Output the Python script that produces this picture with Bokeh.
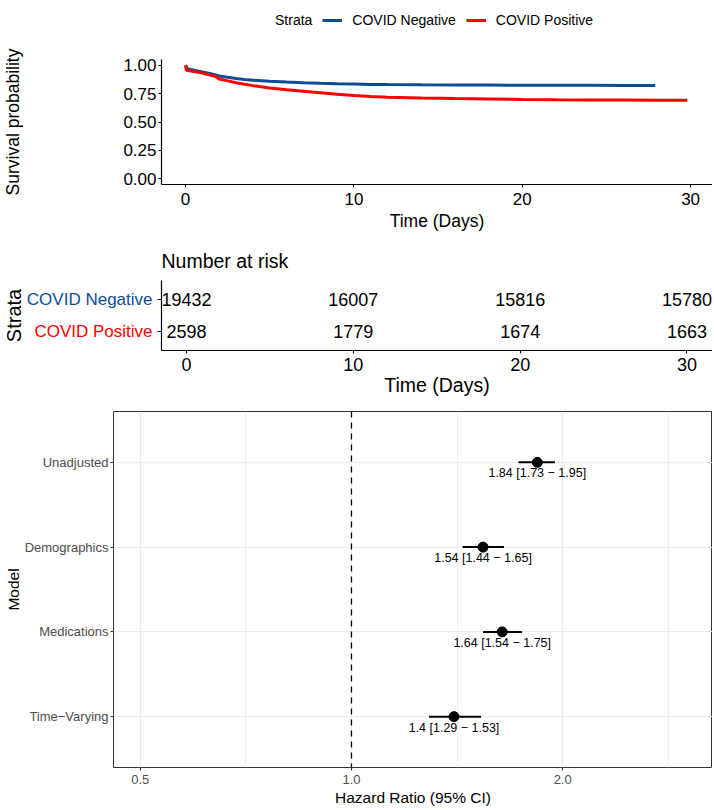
from bokeh.plotting import figure
from bokeh.models import (Range1d, FactorRange, FixedTicker, NumeralTickFormatter, Legend,
                          LegendItem, Span)
from bokeh.layouts import row
from bokeh.embed import file_html
from bokeh.resources import INLINE
from bokeh.core.properties import value

FONT = "Liberation Sans"
BLUE = "#0D4D94"
RED = "#FF0000"

# ---------------- data ----------------
strata = ["COVID Negative", "COVID Positive"]
strata_colors = [BLUE, RED]

neg_time = [0, 0.1, 0.5, 1, 1.5, 2, 2.5, 3, 3.5, 4, 5, 6, 7, 8, 9, 10, 11, 12, 14, 16, 18, 20, 22, 24, 26, 27.9]
neg_surv = [1.0, 0.968, 0.955, 0.94, 0.925, 0.905, 0.893, 0.882, 0.874, 0.868, 0.859, 0.852, 0.846, 0.841,
            0.837, 0.834, 0.831, 0.829, 0.827, 0.826, 0.825, 0.824, 0.823, 0.823, 0.822, 0.822]

pos_time = [0, 0.05, 0.5, 1, 1.5, 1.8, 2, 2.5, 3, 3.5, 4, 5, 6, 7, 8, 9, 10, 11, 12, 14, 16, 18, 20, 22,
            24, 26, 28, 29.8]
pos_surv = [1.0, 0.956, 0.945, 0.93, 0.912, 0.9, 0.878, 0.862, 0.845, 0.832, 0.82, 0.80, 0.784, 0.77,
            0.758, 0.745, 0.733, 0.724, 0.718, 0.712, 0.707, 0.703, 0.699, 0.696, 0.694, 0.693, 0.692, 0.691]

risk_times = [0, 10, 20, 30]
risk_neg = [19432, 16007, 15816, 15780]
risk_pos = [2598, 1779, 1674, 1663]

km_xticks = [0, 10, 20, 30]
km_yticks = [0, 0.25, 0.5, 0.75, 1.0]

models = ["Unadjusted", "Demographics", "Medications", "Time\u2212Varying"]
hr = [1.84, 1.54, 1.64, 1.40]
hr_lo = [1.73, 1.44, 1.54, 1.29]
hr_hi = [1.95, 1.65, 1.75, 1.53]
hr_ticks = [0.5, 1.0, 2.0]
hr_tick_labels = ["0.5", "1.0", "2.0"]
hr_minor = [0.7071, 1.4142, 2.8284]


def style_axis(ax, tick_size, label_size, color="black", line=True):
    ax.axis_line_color = "black" if line else None
    ax.axis_line_width = 1.2
    ax.major_tick_line_color = color
    ax.major_tick_line_width = 1.1
    ax.major_tick_in = 0
    ax.major_tick_out = 3
    ax.minor_tick_line_color = None
    ax.major_label_text_font = FONT
    ax.major_label_text_font_size = tick_size
    ax.major_label_text_color = "black"
    ax.major_label_standoff = 2
    ax.axis_label_text_font = FONT
    ax.axis_label_text_font_size = label_size
    ax.axis_label_text_font_style = "normal"
    ax.axis_label_text_color = "black"


def blank(fig):
    fig.grid.visible = False
    fig.outline_line_color = None


# ---------------- legend header ----------------
hdr = figure(width=712, height=40, min_border=0, x_range=Range1d(0, 1), y_range=Range1d(0, 1),
             x_axis_location=None, y_axis_location=None, output_backend="svg", toolbar_location=None)
blank(hdr)
# single-point renderers: nothing is drawn in the plot, only their legend glyphs
h_title = hdr.line(x=neg_time[:1], y=neg_surv[:1], line_alpha=0)
h_neg = hdr.line(x=neg_time[:1], y=neg_surv[:1], line_color=BLUE, line_width=3)
h_pos = hdr.line(x=pos_time[:1], y=pos_surv[:1], line_color=RED, line_width=3)
legend = Legend(items=[LegendItem(label="Strata", renderers=[h_title]),
                       LegendItem(label=strata[0], renderers=[h_neg]),
                       LegendItem(label=strata[1], renderers=[h_pos])],
                orientation="horizontal", location=(245, 12), glyph_width=20, glyph_height=14,
                label_standoff=10, spacing=10, padding=0, margin=0, border_line_color=None,
                background_fill_alpha=0, label_text_font=FONT, label_text_font_size="14px",
                label_text_color="black", label_height=14)
hdr.add_layout(legend, "center")

# ---------------- KM curve ----------------
km = figure(width=712, height=198, min_border_left=161, min_border_right=0, min_border_top=19,
            min_border_bottom=54, x_range=Range1d(-1.43, 31.3), y_range=Range1d(-0.05, 1.05),
            output_backend="svg", toolbar_location=None)
blank(km)
km.line(neg_time, neg_surv, line_color=BLUE, line_width=3)
km.line(pos_time, pos_surv, line_color=RED, line_width=3)

style_axis(km.xaxis[0], "17px", "17.5px")
style_axis(km.yaxis[0], "17px", "17.5px")
km.xaxis.ticker = FixedTicker(ticks=km_xticks)
km.yaxis.ticker = FixedTicker(ticks=km_yticks)
km.yaxis.formatter = NumeralTickFormatter(format="0.00")
km.xaxis.axis_label = "Time (Days)"
km.xaxis.major_label_standoff = 5
km.xaxis.axis_label_standoff = 3
km.yaxis.axis_label = "Survival probability"
km.yaxis.axis_label_standoff = 97

# ---------------- risk table ----------------
strata_pos = [len(strata) - 1 - i for i in range(len(strata))]
table_y = Range1d(-0.6, len(strata) - 0.4)

lab = figure(width=155, height=164, min_border_left=0, min_border_right=0, min_border_top=42,
             min_border_bottom=52, x_range=Range1d(0, 1), y_range=table_y,
             x_axis_location=None, y_axis_location=None, title="Strata", title_location="left",
             output_backend="svg", toolbar_location=None)
blank(lab)
lab.title.text_font = FONT
lab.title.text_font_size = "20px"
lab.title.text_font_style = "normal"
lab.title.text_color = "black"
lab.title.align = "center"
lab.title.standoff = 0
lab.text(x=[1] * len(strata), y=strata_pos, text=strata, text_color=strata_colors, x_offset=-3,
         text_align="right", text_baseline="middle", text_font=value(FONT), text_font_size="17px")

tab = figure(width=557, height=164, min_border_left=6, min_border_right=0, min_border_top=42,
             min_border_bottom=52, x_range=Range1d(-1.5, 31.53), y_range=table_y,
             title="Number at risk", output_backend="svg", toolbar_location=None)
blank(tab)
tab.title.text_font = FONT
tab.title.text_font_size = "19.5px"
tab.title.text_font_style = "normal"
tab.title.text_color = "black"
tab.title.align = "left"
tab.title.offset = 0
tab.title.standoff = 18
style_axis(tab.xaxis[0], "18px", "19.5px")
style_axis(tab.yaxis[0], "17px", "20px")
tab.xaxis.ticker = FixedTicker(ticks=risk_times)
tab.xaxis.axis_label = "Time (Days)"
tab.xaxis.major_label_standoff = 4
tab.xaxis.axis_label_standoff = 0
tab.yaxis.ticker = FixedTicker(ticks=strata_pos)
tab.yaxis.major_label_overrides = {p: "" for p in strata_pos}
tab.yaxis.major_tick_out = 4
tab.yaxis.major_label_standoff = 0

tab.text(x=risk_times + risk_times,
         y=[strata_pos[0]] * len(risk_times) + [strata_pos[1]] * len(risk_times),
         text=[str(v) for v in risk_neg + risk_pos], text_align="center", text_baseline="middle",
         text_font=value(FONT), text_font_size="18px", text_color="black")

# ---------------- forest plot ----------------
fp = figure(width=712, height=407, min_border_left=113, min_border_right=0, min_border_top=9,
            min_border_bottom=42, x_axis_type="log", x_range=Range1d(0.458, 3.27),
            y_range=FactorRange(factors=models[::-1], range_padding=0.1, range_padding_units="absolute"),
            output_backend="svg", toolbar_location=None)
fp.outline_line_color = "#333333"
fp.outline_line_width = 1
for ax in (fp.xaxis[0], fp.yaxis[0]):
    style_axis(ax, "13px", "15.5px", color="#333333", line=False)
    ax.major_label_text_color = "#4D4D4D"
    ax.major_tick_out = 3
    ax.major_label_standoff = 3
fp.yaxis.major_label_standoff = 2
fp.xaxis.ticker = FixedTicker(ticks=hr_ticks, minor_ticks=hr_minor)
fp.xaxis.major_label_overrides = dict(zip(hr_ticks, hr_tick_labels))
fp.xaxis.axis_label = "Hazard Ratio (95% CI)"
fp.xaxis.axis_label_standoff = 2
fp.yaxis.axis_label = "Model"
fp.yaxis.axis_label_standoff = 0
fp.xgrid.grid_line_color = "#EBEBEB"
fp.xgrid.grid_line_width = 1.2
fp.xgrid.minor_grid_line_color = "#EBEBEB"
fp.xgrid.minor_grid_line_width = 0.8
fp.ygrid.grid_line_color = "#EBEBEB"
fp.ygrid.grid_line_width = 1.2

fp.add_layout(Span(location=1.0, dimension="height", line_color="black", line_dash="6 5",
                   line_width=1.3))
fp.segment(x0=hr_lo, y0=models, x1=hr_hi, y1=models, line_color="black", line_width=2)
fp.scatter(x=hr, y=models, size=10, color="black")
ci_labels = [f"{h:g} [{l:.2f} \u2212 {u:.2f}]" for h, l, u in zip(hr, hr_lo, hr_hi)]
fp.text(x=hr, y=models, text=ci_labels, y_offset=11, text_align="center", text_baseline="middle",
        text_font=value(FONT), text_font_size="12.5px", text_color="black")

open("out.html", "w").write(file_html([hdr, km, row(lab, tab), fp], INLINE))
